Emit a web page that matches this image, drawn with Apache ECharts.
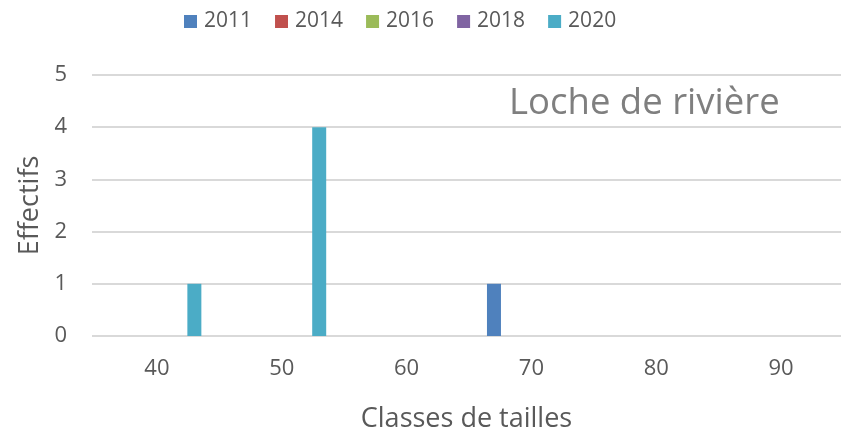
<!DOCTYPE html>
<html>
<head>
<meta charset="utf-8">
<script src="https://cdn.jsdelivr.net/npm/echarts@6/dist/echarts.min.js"></script>
<style>
  html, body { margin: 0; padding: 0; background: #fff; }
  #chart { width: 844px; height: 431px; }
</style>
</head>
<body>
<div id="chart"></div>
<script>
  // classes de tailles (mm) et effectifs par année
  var sizeClasses = [43, 53, 67];
  var years = ['2011', '2014', '2016', '2018', '2020'];
  var effectifs2011 = [null, null, 1];
  var effectifs2014 = [null, null, null];
  var effectifs2016 = [null, null, null];
  var effectifs2018 = [null, null, null];
  var effectifs2020 = [1, 4, null];
  var yTicks = [0, 1, 2, 3, 4, 5];

  var colors = ['#4F81BD', '#C0504D', '#9BBB59', '#8064A2', '#4BACC6'];
  var allValues = [effectifs2011, effectifs2014, effectifs2016, effectifs2018, effectifs2020];
  var font = '"Open Sans", sans-serif';

  var series = years.map(function (y, k) {
    return {
      name: y,
      type: 'bar',
      barWidth: 14,
      barGap: '-100%',
      itemStyle: {color: colors[k]},
      data: sizeClasses.map(function (c, i) {
        return [c, allValues[k][i]];
      })
    };
  });

  var myChart = echarts.init(document.getElementById('chart'));
  myChart.setOption({
    animation: false,
    color: colors,
    textStyle: {fontFamily: font},
    title: {
      text: 'Loche de rivière',
      left: 504,
      top: 80,
      textStyle: {fontFamily: font, fontSize: 36.5, fontWeight: 'normal', color: '#7f7f7f'}
    },
    legend: {
      data: years,
      left: 179,
      top: 6,
      itemWidth: 13,
      itemHeight: 13,
      itemGap: 23,
      icon: 'rect',
      textStyle: {fontFamily: font, fontSize: 21, color: '#595959', padding: [0, 0, 0, 2]}
    },
    grid: {left: 92, right: 3, top: 75, bottom: 95, outerBoundsMode: 'none'},
    xAxis: {
      type: 'value',
      min: 34.8,
      max: 94.8,
      name: 'Classes de tailles',
      nameLocation: 'middle',
      nameGap: 70,
      nameTextStyle: {fontFamily: font, fontSize: 27, color: '#595959'},
      axisLine: {show: false},
      axisTick: {show: false},
      splitLine: {show: false},
      axisLabel: {
        fontFamily: font,
        fontSize: 22,
        color: '#595959',
        margin: 22,
        formatter: function (v) { return v % 10 === 0 ? String(v) : ''; }
      }
    },
    yAxis: {
      type: 'value',
      min: yTicks[0],
      max: yTicks[yTicks.length - 1],
      interval: 1,
      name: 'Effectifs',
      nameLocation: 'middle',
      nameGap: 48,
      nameTextStyle: {fontFamily: font, fontSize: 27, color: '#595959'},
      axisLine: {show: false},
      axisTick: {show: false},
      splitLine: {lineStyle: {color: '#d9d9d9', width: 2}},
      axisLabel: {fontFamily: font, fontSize: 22, color: '#595959', margin: 25}
    },
    series: series
  });
</script>
</body>
</html>
